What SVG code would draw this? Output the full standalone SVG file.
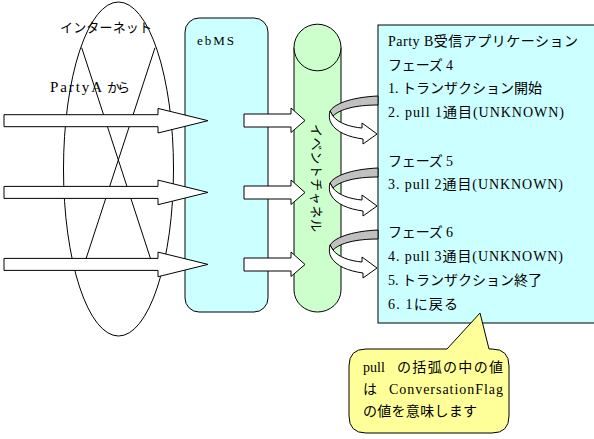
<svg xmlns="http://www.w3.org/2000/svg" xmlns:xlink="http://www.w3.org/1999/xlink" width="594" height="439" viewBox="0 0 594 439">
<style>
  .t { font-family: "Liberation Serif", "Noto Sans CJK JP", serif; font-size: 13px; fill: #000; }
  .b { font-size: 14px; }
  .ln { stroke: #000; stroke-width: 1; fill: none; }
  .wa { fill: #fff; stroke: #000; stroke-width: 1; stroke-linejoin: miter; }
  .gb { fill: #c0c0c0; stroke: #000; stroke-width: 1; }
</style>
<defs>
  <path id="bigArrow" d="M4,-6 H158 V-12.3 L208,0 L158,12.3 V6 H4 Z"/>
  <path id="smallArrow" d="M244,-6.5 H291 V-12.5 L305,0 L291,12 V6.5 H244 Z"/>
  <g id="curl">
    <path class="gb" d="M378,96 C356,97 336,102 330,111 L333,116 C340,109 356,105 378,105 Z"/>
    <path class="wa" d="M330,111 C329,115 329,120 331,123 C336,132 348,137 363,139 L363,144 L377,134 L362,123 L362,128 C350,127 338,123 333,116 Z"/>
  </g>
</defs>
<rect width="594" height="439" fill="#fff"/>

<g id="internet">
  <ellipse class="ln" cx="118.5" cy="169" rx="55" ry="167"/>
  <line class="ln" x1="81.7" y1="47.7" x2="152.6" y2="265"/>
  <line class="ln" x1="155" y1="47.7" x2="84" y2="265"/>
  <text class="t" x="60" y="32" textLength="92" lengthAdjust="spacing">インターネット</text>
  <text class="t" y="92"><tspan x="50" font-size="15" textLength="52" lengthAdjust="spacing">PartyA</tspan><tspan x="107" textLength="23" lengthAdjust="spacing">から</tspan></text>
</g>

<g id="ebms">
  <rect x="185" y="18" width="83" height="294" rx="14" ry="14" fill="#ccffff" stroke="#000"/>
  <text class="t" x="197" y="45" textLength="37" lengthAdjust="spacing">ebMS</text>
</g>

<g id="eventchannel">
  <path d="M294,47.5 V290 A23.5,22 0 0 0 341,290 V47.5" fill="#ccffcc" stroke="#000"/>
  <ellipse cx="317.5" cy="47.5" rx="23.5" ry="23.3" fill="#ccffcc" stroke="#000"/>
  <text class="t" transform="translate(311.5,124) rotate(90)" textLength="108" lengthAdjust="spacing">イベントチャネル</text>
</g>

<g id="partyB">
  <rect x="378" y="25" width="230" height="298" fill="#ccffff" stroke="#000"/>
  <text class="t b" x="388" y="45.5" textLength="190" lengthAdjust="spacing">Party B受信アプリケーション</text>
  <text class="t b" x="388" y="69.5" textLength="65" lengthAdjust="spacing">フェーズ 4</text>
  <text class="t b" x="388" y="93" textLength="154" lengthAdjust="spacing">1. トランザクション開始</text>
  <text class="t b" x="388" y="117" textLength="176" lengthAdjust="spacing">2. pull 1通目(UNKNOWN)</text>
  <text class="t b" x="388" y="165.5" textLength="65" lengthAdjust="spacing">フェーズ 5</text>
  <text class="t b" x="388" y="189" textLength="175" lengthAdjust="spacing">3. pull 2通目(UNKNOWN)</text>
  <text class="t b" x="388" y="237" textLength="65" lengthAdjust="spacing">フェーズ 6</text>
  <text class="t b" x="388" y="261" textLength="175" lengthAdjust="spacing">4. pull 3通目(UNKNOWN)</text>
  <text class="t b" x="388" y="285" textLength="154" lengthAdjust="spacing">5. トランザクション終了</text>
  <text class="t b" x="388" y="308.5" textLength="70" lengthAdjust="spacing">6. 1に戻る</text>
</g>

<g id="connectors">
  <use xlink:href="#bigArrow" class="wa" transform="translate(0,120.7)"/>
  <use xlink:href="#bigArrow" class="wa" transform="translate(0,192.4)"/>
  <use xlink:href="#bigArrow" class="wa" transform="translate(0,264.4)"/>
  <use xlink:href="#smallArrow" class="wa" transform="translate(0,120.5)"/>
  <use xlink:href="#smallArrow" class="wa" transform="translate(0,192.5)"/>
  <use xlink:href="#smallArrow" class="wa" transform="translate(0,264.5)"/>
  <use xlink:href="#curl"/>
  <use xlink:href="#curl" transform="translate(0,72)"/>
  <use xlink:href="#curl" transform="translate(0,134)"/>
</g>

<g id="callout">
  <path d="M366,349 L447,349 L480,313 L489,349 L492,349 Q509,349 509,366 L509,416 Q509,433 492,433 L366,433 Q349,433 349,416 L349,366 Q349,349 366,349 Z" fill="#ffff99" stroke="#000"/>
  <text class="t b" y="372"><tspan x="363">pull</tspan><tspan x="397" textLength="106" lengthAdjust="spacing">の括弧の中の値</tspan></text>
  <text class="t b" y="394"><tspan x="363">は</tspan><tspan x="389" textLength="114" lengthAdjust="spacing">ConversationFlag</tspan></text>
  <text class="t b" x="363" y="416" textLength="114" lengthAdjust="spacing">の値を意味します</text>
</g>
</svg>
